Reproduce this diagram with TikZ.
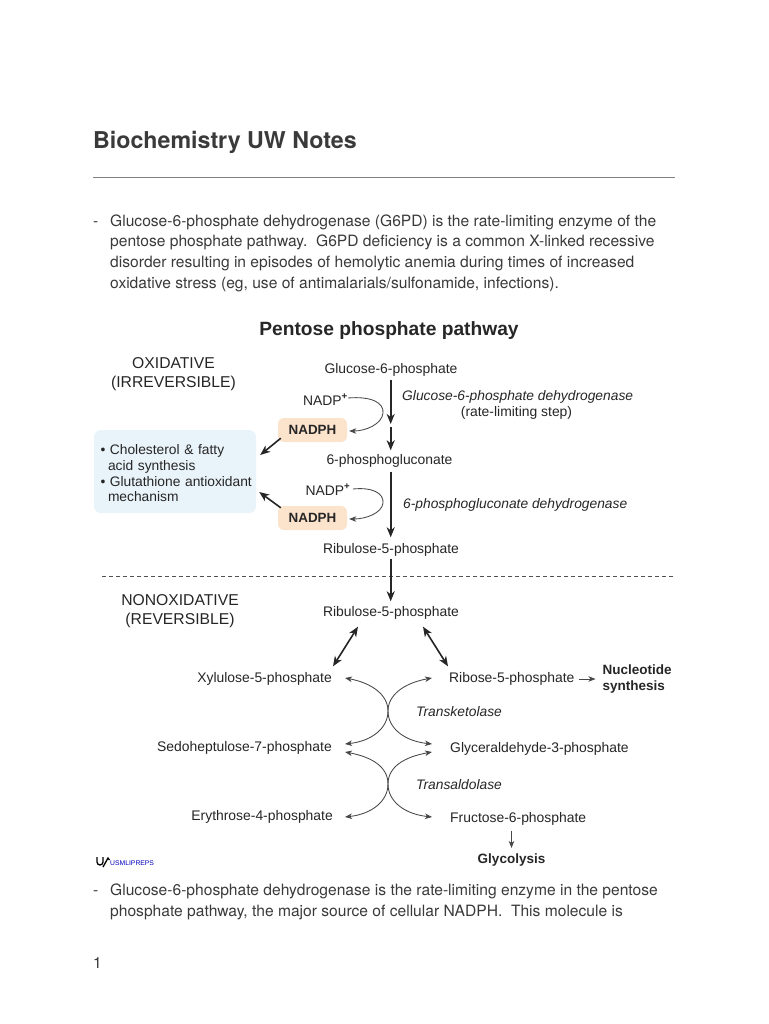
\documentclass[tikz,border=0pt]{standalone}
\usepackage{fontspec}
\setmainfont{Liberation Sans}
\newfontfamily\heros{TeX Gyre Heros}
\usetikzlibrary{arrows.meta,calc}
\definecolor{ink}{HTML}{262626}
\definecolor{pagetext}{HTML}{3A3A3A}
\definecolor{peach}{HTML}{FBE3CC}
\definecolor{paleblue}{HTML}{E9F3FA}
\tikzset{
  x=1pt,y=-1pt,
  lab/.style={inner sep=0pt,font=\fontsize{13.9}{16}\selectfont,text=ink},
  titlelab/.style={inner sep=0pt,font=\fontsize{15.7}{18.5}\selectfont,text=ink,align=center},
  boldlab/.style={inner sep=0pt,font=\fontsize{13.5}{16}\selectfont\bfseries,text=ink,align=left},
  enz/.style={inner sep=0pt,font=\fontsize{13.8}{16}\selectfont\itshape,text=ink,anchor=west},
  para/.style={inner sep=0pt,anchor=base west,font=\heros\fontsize{15.6}{20}\selectfont,text=pagetext},
  nadph/.style={fill=peach,rounded corners=6pt,minimum width=69pt,minimum height=24pt,inner sep=0pt,font=\fontsize{13.4}{15}\selectfont\bfseries,text=ink},
  thin arrow/.style={draw=ink!85,line width=.85pt,-{Stealth[length=7pt,width=5.5pt,inset=2pt]}},
  heavy arrow/.style={draw=ink,line width=1.6pt,-{Stealth[length=10pt,width=8pt,inset=3pt]}},
  both arrow/.style={draw=ink,line width=1.6pt,{Stealth[length=10pt,width=8pt,inset=3pt]}-{Stealth[length=10pt,width=8pt,inset=3pt]}},
}
\begin{document}
\begin{tikzpicture}
\useasboundingbox (0,0) rectangle (768,1024);
\fill[white] (0,0) rectangle (768,1024);
% page
\node[inner sep=0pt,anchor=base west,font=\heros\fontsize{23.2}{26}\selectfont\bfseries,text=pagetext] (head) at (93,149) {Biochemistry UW Notes};
\coordinate (ruleL) at (93,177); \coordinate (ruleR) at (675,177);
\draw[line width=.6pt,draw=gray] (ruleL) -- (ruleR);
\node[para] (d1) at (93,226.5) {-};
\node[para] (p1) at (110,226.5) {Glucose-6-phosphate dehydrogenase (G6PD) is the rate-limiting enzyme of the};
\node[para] (p2) at (110,247) {pentose phosphate pathway.\ \ G6PD deficiency is a common X-linked recessive};
\node[para] (p3) at (110,267) {disorder resulting in episodes of hemolytic anemia during times of increased};
\node[para] (p4) at (110,288) {oxidative stress (eg, use of antimalarials/sulfonamide, infections).};
\node[para] (d2) at (93,895.5) {-};
\node[para] (p5) at (110,895.5) {Glucose-6-phosphate dehydrogenase is the rate-limiting enzyme in the pentose};
\node[para] (p6) at (110,916) {phosphate pathway, the major source of cellular NADPH.\ \ This molecule is};
\node[para] (pg) at (93,968) {1};
% diagram
\node[inner sep=0pt,font=\fontsize{19.2}{22}\selectfont\bfseries,text=ink] (title) at (389,330.5) {Pentose phosphate pathway};
\node[titlelab] (ox) at (173.5,374) {OXIDATIVE\\(IRREVERSIBLE)};
\node[titlelab] (nonox) at (180,611) {NONOXIDATIVE\\(REVERSIBLE)};
\node[fill=paleblue,rounded corners=7pt,minimum width=162pt,minimum height=83pt,inner sep=0pt,text width=158pt,align=left,font=\fontsize{13.8}{15.7}\selectfont,text=ink] (box) at (175,471.5) {\rule{0pt}{14pt}\hspace*{4.5pt}• Cholesterol \& fatty\\\hspace*{12pt}acid synthesis\\\hspace*{4.5pt}• Glutathione antioxidant\\\hspace*{12pt}mechanism};
\node[nadph] (n1) at (312.5,430) {NADPH};
\node[nadph] (n2) at (312.5,518) {NADPH};
\node[lab] (g6p) at (391,370) {Glucose-6-phosphate};
\node[lab] (pg6) at (389.5,461) {6-phosphogluconate};
\node[lab] (ru1) at (391,550) {Ribulose-5-phosphate};
\node[lab] (ru2) at (391,613) {Ribulose-5-phosphate};
\node[lab,anchor=base east] (nadp1) at (348,405) {NADP\textsuperscript{\bfseries +}};
\node[lab,anchor=base east] (nadp2) at (350.5,495) {NADP\textsuperscript{\bfseries +}};
\node[enz] (e1) at (402,397) {Glucose-6-phosphate dehydrogenase};
\node[lab] (e1b) at (516.5,412.5) {(rate-limiting step)};
\node[enz] (e2) at (403,504.5) {6-phosphogluconate dehydrogenase};
\coordinate (dashL) at (102,576); \coordinate (dashR) at (675,576);
\draw[draw=ink!80,line width=.7pt,dash pattern=on 4pt off 3pt] (dashL) -- (dashR);
% main arrows
\coordinate (mainx) at (390.7,0);
\coordinate (m1) at (390.7,424);
\coordinate (m2) at (390.7,427);
\draw[heavy arrow,shorten <=3pt] (g6p.south -| mainx) -- (m1);
\draw[heavy arrow] (m2) -- ($(pg6.north -| mainx)+(0,-4)$);
\draw[heavy arrow,shorten <=4pt,shorten >=6pt] (pg6.south -| mainx) -- (ru1.north -| mainx);
\draw[heavy arrow,shorten <=2pt,shorten >=5pt] (ru1.south -| mainx) -- (ru2.north -| mainx);
% NADP curves
\draw[thin arrow] ($(nadp1.base east)+(0,-7)$) .. controls (372,396) and (384,403) .. (383,413) .. controls (382,424) and (366,431) .. ($(n1.east)+(2,1)$);
\draw[thin arrow] ($(nadp2.base east)+(2.5,-6)$) .. controls (372,487) and (384,493) .. (383,503) .. controls (382,513) and (366,519) .. ($(n2.east)+(2,1)$);
\draw[heavy arrow] ($(n1.south west)+(3,-4)$) -- ($(box.east)+(4,-16.5)$);
\draw[heavy arrow] ($(n2.north west)+(3,2)$) -- ($(box.east)+(3,20.5)$);
% nonoxidative names
\node[lab,anchor=east] (xu) at (332,679) {Xylulose-5-phosphate};
\node[lab,anchor=east] (se) at (332,748) {Sedoheptulose-7-phosphate};
\node[lab,anchor=east] (er) at (333,817) {Erythrose-4-phosphate};
\node[lab,anchor=west] (ri) at (449,679) {Ribose-5-phosphate};
\node[lab,anchor=west] (gl) at (450,749) {Glyceraldehyde-3-phosphate};
\node[lab,anchor=west] (fr) at (450,819) {Fructose-6-phosphate};
\node[enz] (tk) at (416,711.5) {Transketolase};
\node[enz] (ta) at (416,784.5) {Transaldolase};
\node[boldlab,anchor=west] (nuc) at (602.5,679.5) {Nucleotide\\synthesis};
\node[boldlab] (gly) at (511.5,859.5) {Glycolysis};
\draw[both arrow] ($(ru2.south)+(-33,7)$) -- ($(xu.north east)+(1,-6)$);
\draw[both arrow] ($(ru2.south)+(32,7)$) -- ($(ri.north west)+(-1,-6)$);
\draw[thin arrow,shorten <=4pt,shorten >=7pt] (ri.east) -- (nuc.west |- ri.east);
\draw[thin arrow,shorten <=5pt,shorten >=5pt] (fr.south -| gly.north) -- (gly.north);
% crossing curves
\coordinate (c1) at (388,711); \coordinate (c2) at (388,784);
\coordinate (txu) at (345,678);
\coordinate (tse1) at (345,744);
\coordinate (tse2) at (345,752);
\coordinate (ter) at (345,817);
\coordinate (tri) at (432,678);
\coordinate (tgl1) at (432,744);
\coordinate (tgl2) at (432,752);
\coordinate (tfr) at (432,817);
\draw[thin arrow] (c1) .. controls (388,695) and (372,683) .. (txu);
\draw[thin arrow] (c1) .. controls (388,695) and (404,683) .. (tri);
\draw[thin arrow] (c1) .. controls (388,728) and (372,741) .. (tse1);
\draw[thin arrow] (c1) .. controls (388,728) and (404,741) .. (tgl1);
\draw[thin arrow] (c2) .. controls (388,767) and (372,757) .. (tse2);
\draw[thin arrow] (c2) .. controls (388,767) and (404,757) .. (tgl2);
\draw[thin arrow] (c2) .. controls (388,801) and (372,814) .. (ter);
\draw[thin arrow] (c2) .. controls (388,801) and (404,814) .. (tfr);
% logo
\draw[line width=1.3pt,black] (97,857) -- (97,862) arc[start angle=180,end angle=360,radius=3pt] -- (103,857);
\draw[line width=1.3pt,black] (103,867) -- (108,858) -- (109.5,860);
\node[inner sep=0pt,anchor=west,font=\fontsize{6.8}{7}\selectfont,text=blue!75!black] (logo) at (110,863) {USMLIPREPS};
\end{tikzpicture}
\end{document}
